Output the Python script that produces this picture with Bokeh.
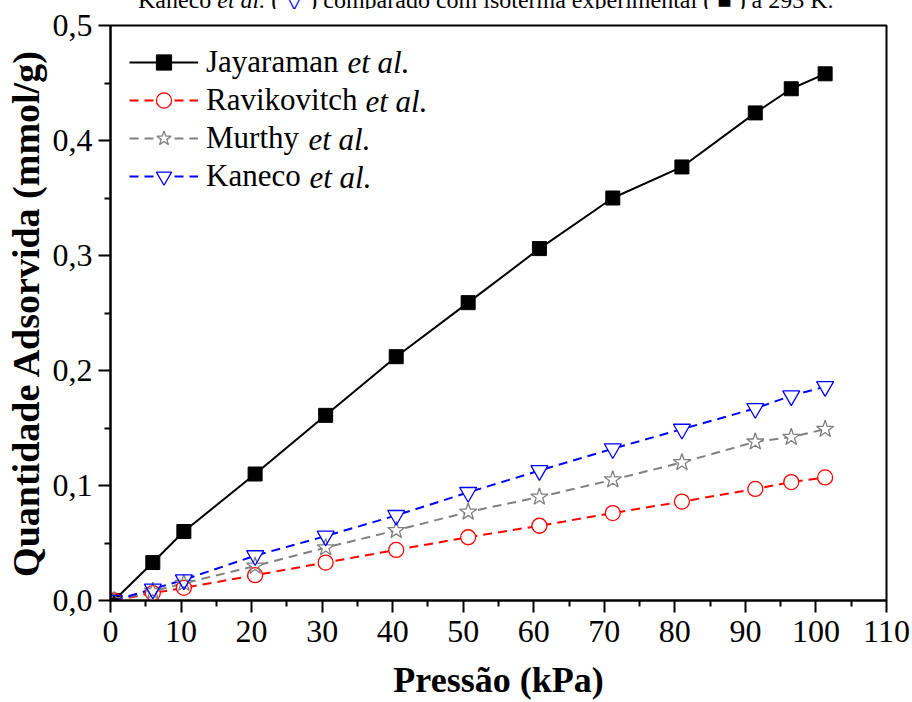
from bokeh.plotting import figure
from bokeh.layouts import column
from bokeh.models import FixedTicker, Legend, LegendItem, Label, Range1d, Div
from bokeh.embed import file_html
from bokeh.resources import INLINE

# Adsorption isotherms at 293 K: pressure (kPa) vs adsorbed amount (mmol/g)
pressure = [0.5, 6.0, 10.4, 20.5, 30.5, 40.5, 50.7, 60.8, 71.2, 81.0, 91.4, 96.5, 101.3]
jayaraman = [0.0, 0.033, 0.060, 0.110, 0.161, 0.212, 0.259, 0.306, 0.350, 0.377, 0.424, 0.445, 0.458]
ravikovitch = [0.0, 0.0065, 0.011, 0.022, 0.033, 0.044, 0.055, 0.065, 0.076, 0.086, 0.097, 0.103, 0.107]
murthy = [0.0, 0.008, 0.015, 0.030, 0.046, 0.061, 0.077, 0.090, 0.105, 0.120, 0.138, 0.142, 0.149]
kaneco = [0.0, 0.010, 0.018, 0.039, 0.056, 0.074, 0.094, 0.113, 0.132, 0.149, 0.167, 0.178, 0.186]

series_names = ["Jayaraman", "Ravikovitch", "Murthy", "Kaneco"]

x_ticks = [0, 10, 20, 30, 40, 50, 60, 70, 80, 90, 100, 110]
x_minor = [5, 15, 25, 35, 45, 55, 65, 75, 85, 95, 105]
y_ticks = [0.0, 0.1, 0.2, 0.3, 0.4, 0.5]
y_tick_labels = ["0,0", "0,1", "0,2", "0,3", "0,4", "0,5"]
y_minor = [0.05, 0.15, 0.25, 0.35, 0.45]

x_title = "Pressão (kPa)"
y_title = "Quantidade Adsorvida (mmol/g)"

SERIF = "Liberation Serif"

# caption line at the very top of the page (its upper half runs off the edge)
caption_html = (
    "<div style=\"font-family:'Liberation Serif',serif; font-size:24px; line-height:24px;"
    " white-space:nowrap; color:black; position:relative; top:-12px; left:138px;\">"
    "Kaneco <i>et al.</i> ( <span style='color:#0000ff'>&#9661;</span> ) "
    "comparado com isoterma experimental ( &#9632; ) a 293 K.</div>"
)
cap = Div(text=caption_html, width=912, height=9,
          styles={"overflow": "hidden", "margin": "0", "padding": "0"})

p = figure(width=912, height=693,
           x_range=Range1d(0, 110), y_range=Range1d(0, 0.5),
           output_backend="svg", toolbar_location=None,
           min_border_left=110, min_border_right=26,
           min_border_top=16, min_border_bottom=102)
p.xgrid.visible = False
p.ygrid.visible = False
p.background_fill_color = "white"
p.border_fill_color = "white"
p.outline_line_color = "black"
p.outline_line_width = 2

p.xaxis.ticker = FixedTicker(ticks=x_ticks, minor_ticks=x_minor)
p.yaxis.ticker = FixedTicker(ticks=y_ticks, minor_ticks=y_minor)
p.yaxis.major_label_overrides = {t: s for t, s in zip(y_ticks, y_tick_labels)}

for ax in (p.xaxis[0], p.yaxis[0]):
    ax.axis_line_width = 2
    ax.axis_line_color = "black"
    ax.major_tick_line_width = 2
    ax.minor_tick_line_width = 2
    ax.major_tick_line_color = "black"
    ax.minor_tick_line_color = "black"
    ax.major_tick_in = 0
    ax.minor_tick_in = 0
    ax.major_tick_out = 12
    ax.minor_tick_out = 6
    ax.major_label_text_font = SERIF
    ax.major_label_text_font_size = "32px"
    ax.major_label_text_color = "black"
    ax.axis_label_text_font = SERIF
    ax.axis_label_text_font_style = "bold"
    ax.axis_label_text_color = "black"
p.xaxis.major_label_standoff = 8
p.yaxis.major_label_standoff = 6
p.xaxis.axis_label = x_title
p.yaxis.axis_label = y_title
p.xaxis.axis_label_text_font_size = "36px"
p.yaxis.axis_label_text_font_size = "38px"
p.xaxis.axis_label_standoff = 15
p.yaxis.axis_label_standoff = 3

dash = "9 6"

# connecting lines
l_j = p.line(pressure, jayaraman, line_color="black", line_width=2)
l_r = p.line(pressure, ravikovitch, line_color="#ff0000", line_width=2, line_dash=dash)
l_m = p.line(pressure, murthy, line_color="#808080", line_width=2, line_dash=dash)
l_k = p.line(pressure, kaneco, line_color="#0000ff", line_width=2, line_dash=dash)

# white backings so the lines stop at the open symbols
b_r = p.scatter(pressure, ravikovitch, marker="circle", size=15, fill_color="white", line_alpha=0)
b_m = p.scatter(pressure, murthy, marker="star", size=18, fill_color="white", line_alpha=0)
b_k = p.scatter(pressure, kaneco, marker="inverted_triangle", size=17, fill_color="white", line_alpha=0)

# symbols
m_j = p.scatter(pressure, jayaraman, marker="square", size=14, fill_color="black", line_color="black")
m_r = p.scatter(pressure, ravikovitch, marker="circle", size=15, fill_alpha=0,
                line_color="#ff0000", line_width=1.3)
m_m = p.scatter(pressure, murthy, marker="star", size=18, fill_alpha=0,
                line_color="#808080", line_width=1.3)
m_k = p.scatter(pressure, kaneco, marker="inverted_triangle", size=17, fill_alpha=0,
                line_color="#0000ff", line_width=1.3)

legend = Legend(items=[
    LegendItem(label=series_names[0], renderers=[l_j, m_j]),
    LegendItem(label=series_names[1], renderers=[l_r, b_r, m_r]),
    LegendItem(label=series_names[2], renderers=[l_m, b_m, m_m]),
    LegendItem(label=series_names[3], renderers=[l_k, b_k, m_k]),
], location=(19, 405), glyph_width=69, glyph_height=38, label_height=38,
    spacing=0, padding=0, margin=0, label_standoff=8,
    border_line_alpha=0, background_fill_alpha=0,
    label_text_font=SERIF, label_text_font_size="31px", label_text_color="black")
p.add_layout(legend)

# italic "et al." after each legend name
etal_x = [237, 255, 198, 199]
row_y = [537.7, 499.3, 460.7, 422.7]
for ex, ry in zip(etal_x, row_y):
    p.add_layout(Label(x=ex, y=ry, x_units="screen", y_units="screen", text="et al.",
                       text_font=SERIF, text_font_style="italic", text_font_size="31px",
                       text_color="black", text_baseline="middle"))

page = column(cap, p, spacing=0)
open("out.html", "w").write(file_html(page, INLINE))
